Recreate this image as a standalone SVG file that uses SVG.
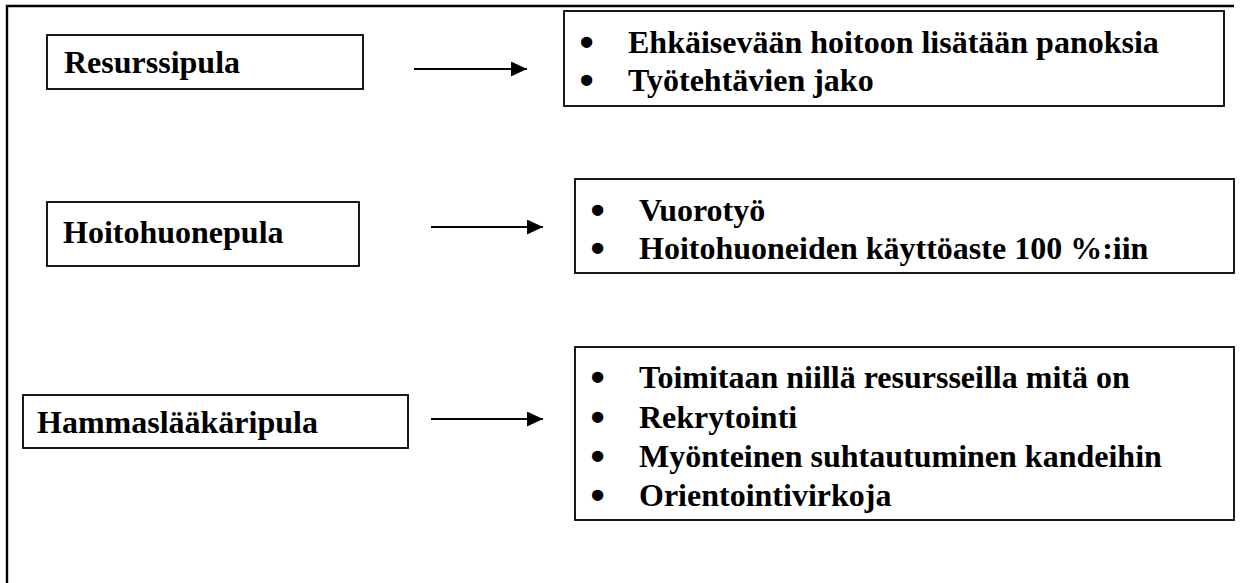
<svg xmlns="http://www.w3.org/2000/svg" width="1240" height="583" viewBox="0 0 1240 583">
<defs>
<style>
.frame{fill:none;stroke:#000;stroke-width:2.4}
.box{fill:#fff;stroke:#000;stroke-width:1.8}
.t{font-family:"Liberation Serif","Times New Roman",serif;font-weight:bold;font-size:32px;fill:#000}
.b{font-family:"Liberation Serif","Times New Roman",serif;font-weight:bold;font-size:32px;fill:#000;stroke:#000;stroke-width:2.6;stroke-linejoin:round}
.conn{stroke:#000;stroke-width:2;fill:none}
</style>
<marker id="ah" viewBox="0 0 10 10" refX="10" refY="5" markerWidth="16" markerHeight="15" markerUnits="userSpaceOnUse" orient="auto" preserveAspectRatio="none">
<path d="M0,0 L10,5 L0,10 Z" fill="#000"/>
</marker>
</defs>
<rect width="1240" height="583" fill="#fff"/>
<path class="frame" d="M7,583 L7,6 L1234,6"/>

<g id="resurssipula">
<rect class="box" x="47" y="35" width="316" height="54"/>
<text class="t" x="64" y="73">Resurssipula</text>
</g>
<g id="hoitohuonepula">
<rect class="box" x="47" y="202" width="312" height="64"/>
<text class="t" x="63" y="243">Hoitohuonepula</text>
</g>
<g id="hammaslaakaripula">
<rect class="box" x="23" y="395" width="385" height="53"/>
<text class="t" x="37" y="433">Hammaslääkäripula</text>
</g>

<g id="keinot1">
<rect class="box" x="564" y="11" width="660" height="95"/>
<text class="b" x="581" y="53">•</text><text class="t" x="628" y="53">Ehkäisevään hoitoon lisätään panoksia</text>
<text class="b" x="581" y="91">•</text><text class="t" x="628" y="91">Työtehtävien jako</text>
</g>
<g id="keinot2">
<rect class="box" x="575" y="179" width="659" height="94"/>
<text class="b" x="592" y="221">•</text><text class="t" x="639" y="221">Vuorotyö</text>
<text class="b" x="592" y="259">•</text><text class="t" x="639" y="259">Hoitohuoneiden käyttöaste 100 %:iin</text>
</g>
<g id="keinot3">
<rect class="box" x="575" y="347" width="659" height="173"/>
<text class="b" x="592" y="388">•</text><text class="t" x="639" y="388">Toimitaan niillä resursseilla mitä on</text>
<text class="b" x="592" y="428">•</text><text class="t" x="639" y="428">Rekrytointi</text>
<text class="b" x="592" y="467">•</text><text class="t" x="639" y="467">Myönteinen suhtautuminen kandeihin</text>
<text class="b" x="592" y="506">•</text><text class="t" x="639" y="506">Orientointivirkoja</text>
</g>

<g id="connectors">
<line class="conn" x1="414" y1="69" x2="527" y2="69" marker-end="url(#ah)"/>
<line class="conn" x1="431" y1="227" x2="543" y2="227" marker-end="url(#ah)"/>
<line class="conn" x1="431" y1="419" x2="543" y2="419" marker-end="url(#ah)"/>
</g>
</svg>
